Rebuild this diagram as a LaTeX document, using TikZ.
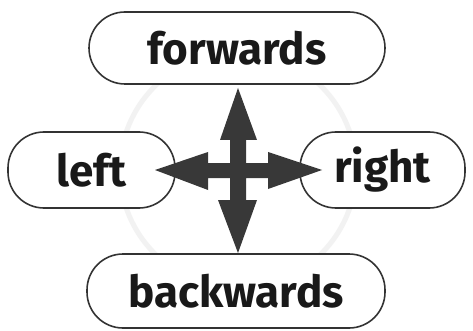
\documentclass[tikz,border=0pt]{standalone}
\usepackage{fontspec}
\setmainfont{Fira Sans}
\begin{document}
\begin{tikzpicture}[x=1pt,y=-1pt,
  pill/.style={draw=black!80, line width=1.6pt, rounded corners=36pt, fill=white,
    inner sep=0pt, font=\fontsize{44}{44}\selectfont\bfseries, text=black!90},
  arrowshape/.style={fill=black!78, draw=none}]
\useasboundingbox (0,0) rectangle (473,331);
\fill[white] (0,0) rectangle (473,331);
\draw[black!5, line width=5pt] (238,170) circle (118);
\node[pill, minimum width=296pt, minimum height=72pt] (fwd) at (237,48) {forwards};
\node[pill, minimum width=167pt, minimum height=76pt] (left) at (91.5,170) {left};
\node[pill, minimum width=165pt, minimum height=76pt] (right) at (382.5,170) {right};
\node[pill, minimum width=298pt, minimum height=74pt] (bwd) at (236,291) {backwards};
\coordinate (c) at (238,170);
\fill[arrowshape] (238,88) -- (257,140) -- (246,140) -- (246,163)
  -- (268,163) -- (268,152) -- (322,170) -- (268,189) -- (268,178)
  -- (246,178) -- (246,200) -- (257,200) -- (238,253) -- (218,200)
  -- (230,200) -- (230,178) -- (208,178) -- (208,190) -- (155,170)
  -- (208,152) -- (208,163) -- (230,163) -- (230,140) -- (220,140) -- cycle;
\end{tikzpicture}
\end{document}
